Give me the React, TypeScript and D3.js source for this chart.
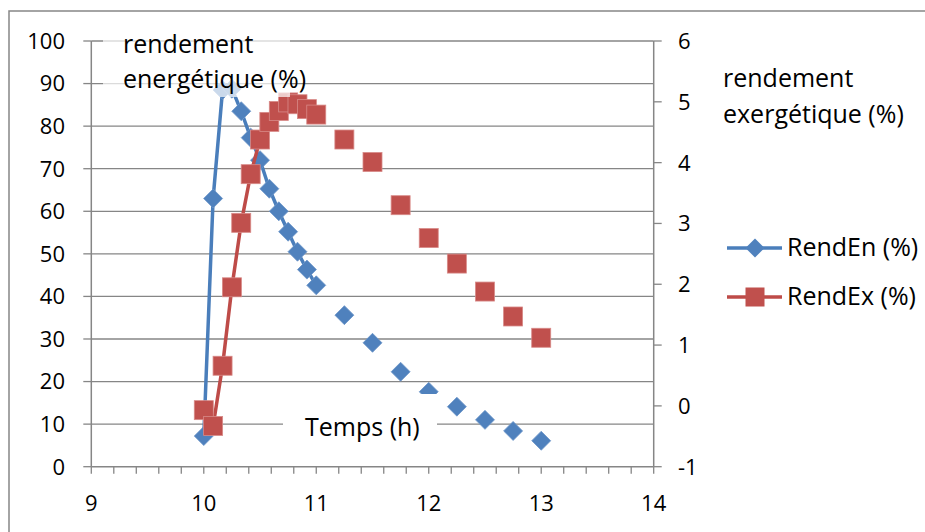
import React, { useEffect, useRef } from 'react';
import * as d3 from 'd3';

// Relevés (heures décimales) : pas de 5 min jusqu'à 11 h, puis 15 min
const heures = [10, 10.083, 10.167, 10.25, 10.333, 10.417, 10.5, 10.583, 10.667, 10.75, 10.833, 10.917, 11,
  11.25, 11.5, 11.75, 12, 12.25, 12.5, 12.75, 13];
const rendEn = [7.2, 63.0, 88.5, 88.8, 83.5, 77.3, 72.0, 65.3, 60.0, 55.2, 50.5, 46.3, 42.6,
  35.6, 29.1, 22.3, 17.6, 14.1, 11.0, 8.4, 6.1];
const rendEx = [-0.07, -0.33, 0.66, 1.95, 3.01, 3.81, 4.38, 4.67, 4.85, 4.99, 4.96, 4.88, 4.79,
  4.38, 4.01, 3.30, 2.76, 2.34, 1.88, 1.47, 1.12];
const nbRelies = 13; // seuls les relevés à 5 min sont reliés par une ligne

const ticksX = [9, 10, 11, 12, 13, 14];
const ticksGauche = [0, 10, 20, 30, 40, 50, 60, 70, 80, 90, 100];
const ticksDroite = [-1, 0, 1, 2, 3, 4, 5, 6];
const series = ['RendEn (%)', 'RendEx (%)'];

const BLEU = '#4A7EBB';
const ROUGE = '#BE4B48';
const GRIS = '#868686';
const FONT = '"Open Sans", sans-serif';

const App: React.FC = () => {
  const svgRef = useRef<SVGSVGElement>(null);

  useEffect(() => {
    if (!svgRef.current) return;
    const svg = d3.select(svgRef.current);
    svg.selectAll('*').remove();

    const left = 91.3, right = 653.7, top = 41, bottom = 466.7;

    const x = d3.scaleLinear().domain([9, 14]).range([left, right]);
    const yL = d3.scaleLinear().domain([0, 100]).range([bottom, top]);
    const yR = d3.scaleLinear().domain([-1, 6]).range([bottom, top]);

    // cadre du graphique
    svg.append('rect')
      .attr('x', 9).attr('y', 11).attr('width', 940).attr('height', 560)
      .attr('fill', 'white').attr('stroke', GRIS).attr('stroke-width', 1.5);

    // quadrillage
    svg.append('g').selectAll('line').data(ticksGauche.filter(d => d > 0)).enter()
      .append('line')
      .attr('x1', left).attr('x2', right)
      .attr('y1', d => yL(d)).attr('y2', d => yL(d))
      .attr('stroke', GRIS).attr('stroke-width', 1.3);

    // axe gauche
    const axeG = svg.append('g');
    axeG.append('line').attr('x1', left).attr('x2', left).attr('y1', top).attr('y2', bottom)
      .attr('stroke', GRIS).attr('stroke-width', 1.5);
    axeG.selectAll('line.t').data(ticksGauche).enter().append('line').attr('class', 't')
      .attr('x1', left - 8).attr('x2', left).attr('y1', d => yL(d)).attr('y2', d => yL(d))
      .attr('stroke', GRIS).attr('stroke-width', 1.3);
    axeG.selectAll('text').data(ticksGauche).enter().append('text')
      .attr('x', 65).attr('y', d => yL(d)).attr('dy', '0.36em')
      .attr('text-anchor', 'end')
      .style('font-family', FONT).style('font-size', '22px').attr('fill', '#000')
      .text(d => d);

    // axe droit
    const axeD = svg.append('g');
    axeD.append('line').attr('x1', right).attr('x2', right).attr('y1', top).attr('y2', bottom)
      .attr('stroke', GRIS).attr('stroke-width', 1.5);
    axeD.selectAll('line.t').data(ticksDroite).enter().append('line').attr('class', 't')
      .attr('x1', right).attr('x2', right + 8).attr('y1', d => yR(d)).attr('y2', d => yR(d))
      .attr('stroke', GRIS).attr('stroke-width', 1.3);
    axeD.selectAll('text').data(ticksDroite).enter().append('text')
      .attr('x', 678).attr('y', d => yR(d)).attr('dy', '0.36em')
      .style('font-family', FONT).style('font-size', '22px').attr('fill', '#000')
      .text(d => d);

    // axe du temps
    const axeX = svg.append('g');
    axeX.append('line').attr('x1', left).attr('x2', right).attr('y1', bottom).attr('y2', bottom)
      .attr('stroke', GRIS).attr('stroke-width', 1.5);
    const mineurs = d3.range(9, 14.0001, 0.2);
    axeX.selectAll('line.t').data(mineurs).enter().append('line').attr('class', 't')
      .attr('x1', d => x(d)).attr('x2', d => x(d)).attr('y1', bottom).attr('y2', bottom + 7)
      .attr('stroke', GRIS).attr('stroke-width', 1.3);
    axeX.selectAll('text').data(ticksX).enter().append('text')
      .attr('x', d => x(d)).attr('y', 503).attr('dy', '0.36em')
      .attr('text-anchor', 'middle')
      .style('font-family', FONT).style('font-size', '22px').attr('fill', '#000')
      .text(d => d);

    // courbes (seulement les relevés à 5 min)
    const idx = d3.range(heures.length);
    const ligneEn = d3.line<number>().x(i => x(heures[i])).y(i => yL(rendEn[i]));
    const ligneEx = d3.line<number>().x(i => x(heures[i])).y(i => yR(rendEx[i]));

    svg.append('path').attr('d', ligneEn(idx.slice(0, nbRelies)) as string)
      .attr('fill', 'none').attr('stroke', BLEU).attr('stroke-width', 3.5)
      .attr('stroke-linejoin', 'round');
    svg.append('g').selectAll('path').data(idx).enter().append('path')
      .attr('d', 'M0,-9.5L9.5,0L0,9.5L-9.5,0Z')
      .attr('transform', i => `translate(${x(heures[i])},${yL(rendEn[i])})`)
      .attr('fill', '#4F81BD').attr('stroke', '#6F97C9').attr('stroke-width', 0.8);

    svg.append('path').attr('d', ligneEx(idx.slice(0, nbRelies)) as string)
      .attr('fill', 'none').attr('stroke', ROUGE).attr('stroke-width', 3.5)
      .attr('stroke-linejoin', 'round');
    svg.append('g').selectAll('rect').data(idx).enter().append('rect')
      .attr('x', i => x(heures[i]) - 9.5).attr('y', i => yR(rendEx[i]) - 9.5)
      .attr('width', 19).attr('height', 19)
      .attr('fill', '#C0504D').attr('stroke', '#D88A88').attr('stroke-width', 0.8);

    // titres d'axes
    svg.append('rect').attr('x', 103).attr('y', 22).attr('width', 187).attr('height', 75)
      .attr('fill', 'white').attr('opacity', 0.7);
    const titreG = svg.append('text').style('font-family', FONT).style('font-size', '25px').attr('fill', '#000');
    titreG.append('tspan').attr('x', 123).attr('y', 53).text('rendement');
    titreG.append('tspan').attr('x', 123).attr('y', 88).text('energétique (%)');

    const titreD = svg.append('text').style('font-family', FONT).style('font-size', '25px').attr('fill', '#000');
    titreD.append('tspan').attr('x', 723).attr('y', 87).text('rendement');
    titreD.append('tspan').attr('x', 723).attr('y', 123).text('exergétique (%)');

    svg.append('rect').attr('x', 283).attr('y', 394).attr('width', 154).attr('height', 60)
      .attr('fill', 'white');
    svg.append('text').attr('x', 305).attr('y', 436)
      .style('font-family', FONT).style('font-size', '25px').attr('fill', '#000')
      .text('Temps (h)');

    // légende
    const leg = svg.append('g').selectAll('g').data(series).enter().append('g')
      .attr('transform', (d, i) => `translate(727, ${248 + i * 49})`);
    leg.append('line').attr('x1', 0).attr('x2', 55).attr('y1', 0).attr('y2', 0)
      .attr('stroke', (d, i) => (i === 0 ? BLEU : ROUGE)).attr('stroke-width', 3.5);
    leg.filter((d, i) => i === 0).append('path')
      .attr('d', 'M0,-9.5L9.5,0L0,9.5L-9.5,0Z').attr('transform', 'translate(28,0)')
      .attr('fill', '#4F81BD');
    leg.filter((d, i) => i === 1).append('rect')
      .attr('x', 18.5).attr('y', -9.5).attr('width', 19).attr('height', 19)
      .attr('fill', '#C0504D');
    leg.append('text').attr('x', 60).attr('y', 8)
      .style('font-family', FONT).style('font-size', '25px').attr('fill', '#000')
      .text(d => d);
  }, []);

  return (
    <svg ref={svgRef} width={925} height={532}
      style={{ position: 'absolute', left: 0, top: 0, display: 'block' }} />
  );
};

export default App;
